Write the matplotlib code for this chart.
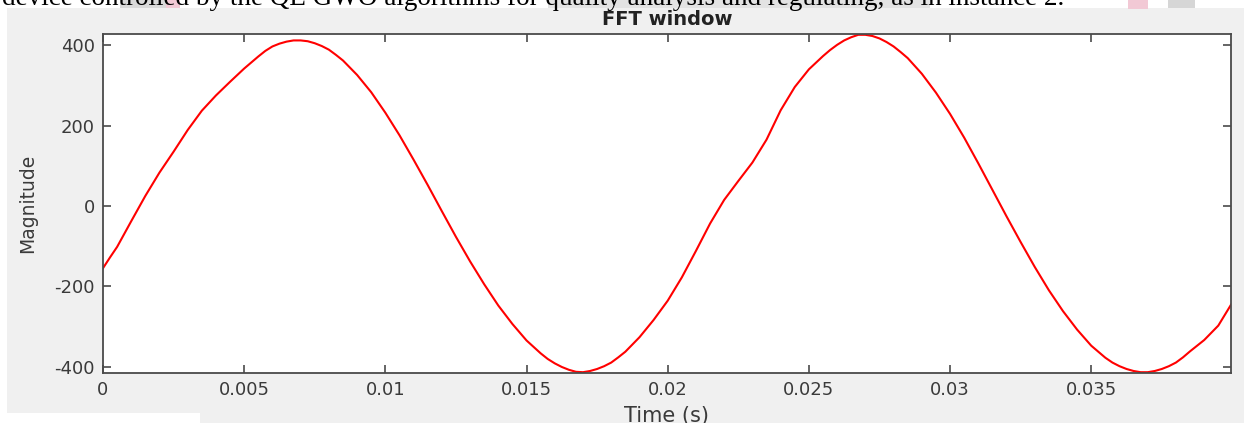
import numpy as np
import matplotlib
matplotlib.use('Agg')
import matplotlib.pyplot as plt
from matplotlib.patches import Rectangle

# sampled window (time in ms, magnitude), denser around the extrema
time_ms = [0.0, 0.25, 0.5, 0.75, 1.0, 1.5, 2.0, 2.5, 3.0, 3.5,
           4.0, 4.5, 5.0, 5.5, 5.75, 6.0, 6.25, 6.5, 6.75, 7.0,
           7.25, 7.5, 7.75, 8.0, 8.25, 8.5,
           9.0, 9.5, 10.0, 10.5, 11.0, 11.5, 12.0, 12.5, 13.0, 13.5,
           14.0, 14.5, 15.0, 15.5, 15.75, 16.0, 16.25, 16.5, 16.75, 17.0,
           17.25, 17.5, 17.75, 18.0, 18.25, 18.5,
           19.0, 19.5, 20.0, 20.5, 21.0, 21.5, 22.0, 22.5, 23.0, 23.5,
           24.0, 24.5, 25.0, 25.5, 25.75, 26.0, 26.25, 26.5, 26.75, 27.0,
           27.25, 27.5, 27.75, 28.0, 28.25, 28.5,
           29.0, 29.5, 30.0, 30.5, 31.0, 31.5, 32.0, 32.5, 33.0, 33.5,
           34.0, 34.5, 35.0, 35.5, 35.75, 36.0, 36.25, 36.5, 36.75, 37.0,
           37.25, 37.5, 37.75, 38.0, 38.25, 38.5,
           39.0, 39.5, 39.95]
magnitude = [-155, -128, -102, -70, -38, 25, 83, 135, 189, 237,
             275, 309, 342, 372, 386, 397, 404, 409, 412, 412,
             410, 405, 398, 389, 376, 362,
             326, 283, 232, 176, 115, 52, -13, -77, -138, -195,
             -248, -294, -335, -367, -381, -392, -401, -408, -413, -414,
             -411, -406, -399, -390, -377, -363,
             -327, -284, -236, -178, -112, -44, 15, 62, 108, 165,
             238, 296, 340, 373, 388, 401, 412, 420, 426, 426,
             423, 417, 408, 397, 383, 368,
             329, 282, 229, 170, 106, 40, -26, -90, -152, -210,
             -262, -308, -348, -378, -390, -399, -406, -411, -414, -414,
             -411, -406, -399, -390, -377, -362,
             -334, -298, -246]

xticks = [0, 0.005, 0.01, 0.015, 0.02, 0.025, 0.03, 0.035]
xtick_labels = ['0', '0.005', '0.01', '0.015', '0.02', '0.025', '0.03', '0.035']
yticks = [-400, -200, 0, 200, 400]
ytick_labels = ['-400', '-200', '0', '200', '400']

doc_line = 'device controlled by the QE GWO algorithms for quality analysis and regulating, as in instance 2.'

plt.rcParams['axes.unicode_minus'] = False
W, H = 1249, 423
fig = plt.figure(figsize=(W / 100, H / 100), dpi=100)
fig.patch.set_facecolor('white')

def px_rect(x0, y0, x1, y1, color):
    # rectangle given in pixel coords from the top-left corner, kept behind the axes
    fig.patches.append(Rectangle((x0 / W, 1 - y1 / H), (x1 - x0) / W, (y1 - y0) / H,
                                 transform=fig.transFigure, facecolor=color,
                                 edgecolor='none', zorder=-10))

# grey figure panel and the highlighted bits of the page above it
px_rect(7, 8, 1244, 423, '#f0f0f0')
px_rect(0, 413, 200, 423, 'white')
px_rect(120, 0, 166, 8, '#d9d9d9')
px_rect(166, 0, 180, 8, '#f2c9d5')
px_rect(548, 0, 930, 8, '#e3e3e3')
px_rect(1128, 0, 1148, 9, '#f2c9d5')
px_rect(1168, 0, 1195, 8, '#d6d6d6')

fig.text(2 / W, 1 - 5 / H, doc_line, family='Liberation Serif', fontsize=19.5,
         color='black', ha='left', va='baseline')

ax = fig.add_axes([103 / W, 1 - 373 / H, 1128 / W, 339 / H])
ax.set_facecolor('white')
ax.plot(np.array(time_ms) / 1000.0, magnitude, color='#ff0000', lw=1.5)

ax.set_xlim(0, 0.03995)
ax.set_ylim(-416, 428)
ax.set_xticks(xticks)
ax.set_xticklabels(xtick_labels)
ax.set_yticks(yticks)
ax.set_yticklabels(ytick_labels)

axis_col = '#4a4a4a'
for s in ax.spines.values():
    s.set_color(axis_col)
    s.set_linewidth(1.3)
ax.tick_params(direction='in', length=5.5, width=1.2, color=axis_col,
               labelcolor='#3a3a3a', labelsize=13, top=True, right=True)
ax.tick_params(axis='x', pad=6)
ax.tick_params(axis='y', pad=6)

ax.set_xlabel('Time (s)', fontsize=15, color='#3a3a3a')
ax.xaxis.set_label_coords(0.5, (1 - 50) / 339)
ax.xaxis.label.set_va('baseline')
ax.set_ylabel('Magnitude', fontsize=13.5, color='#3a3a3a')
ax.yaxis.set_label_coords((28 - 103) / 1128, 0.5)
ax.yaxis.label.set_va('center')

fig.text(667 / W, 1 - 25 / H, 'FFT window', fontsize=14, fontweight='bold',
         color='#222222', ha='center', va='baseline')

fig.savefig('out.png', dpi=100, facecolor=fig.get_facecolor())
